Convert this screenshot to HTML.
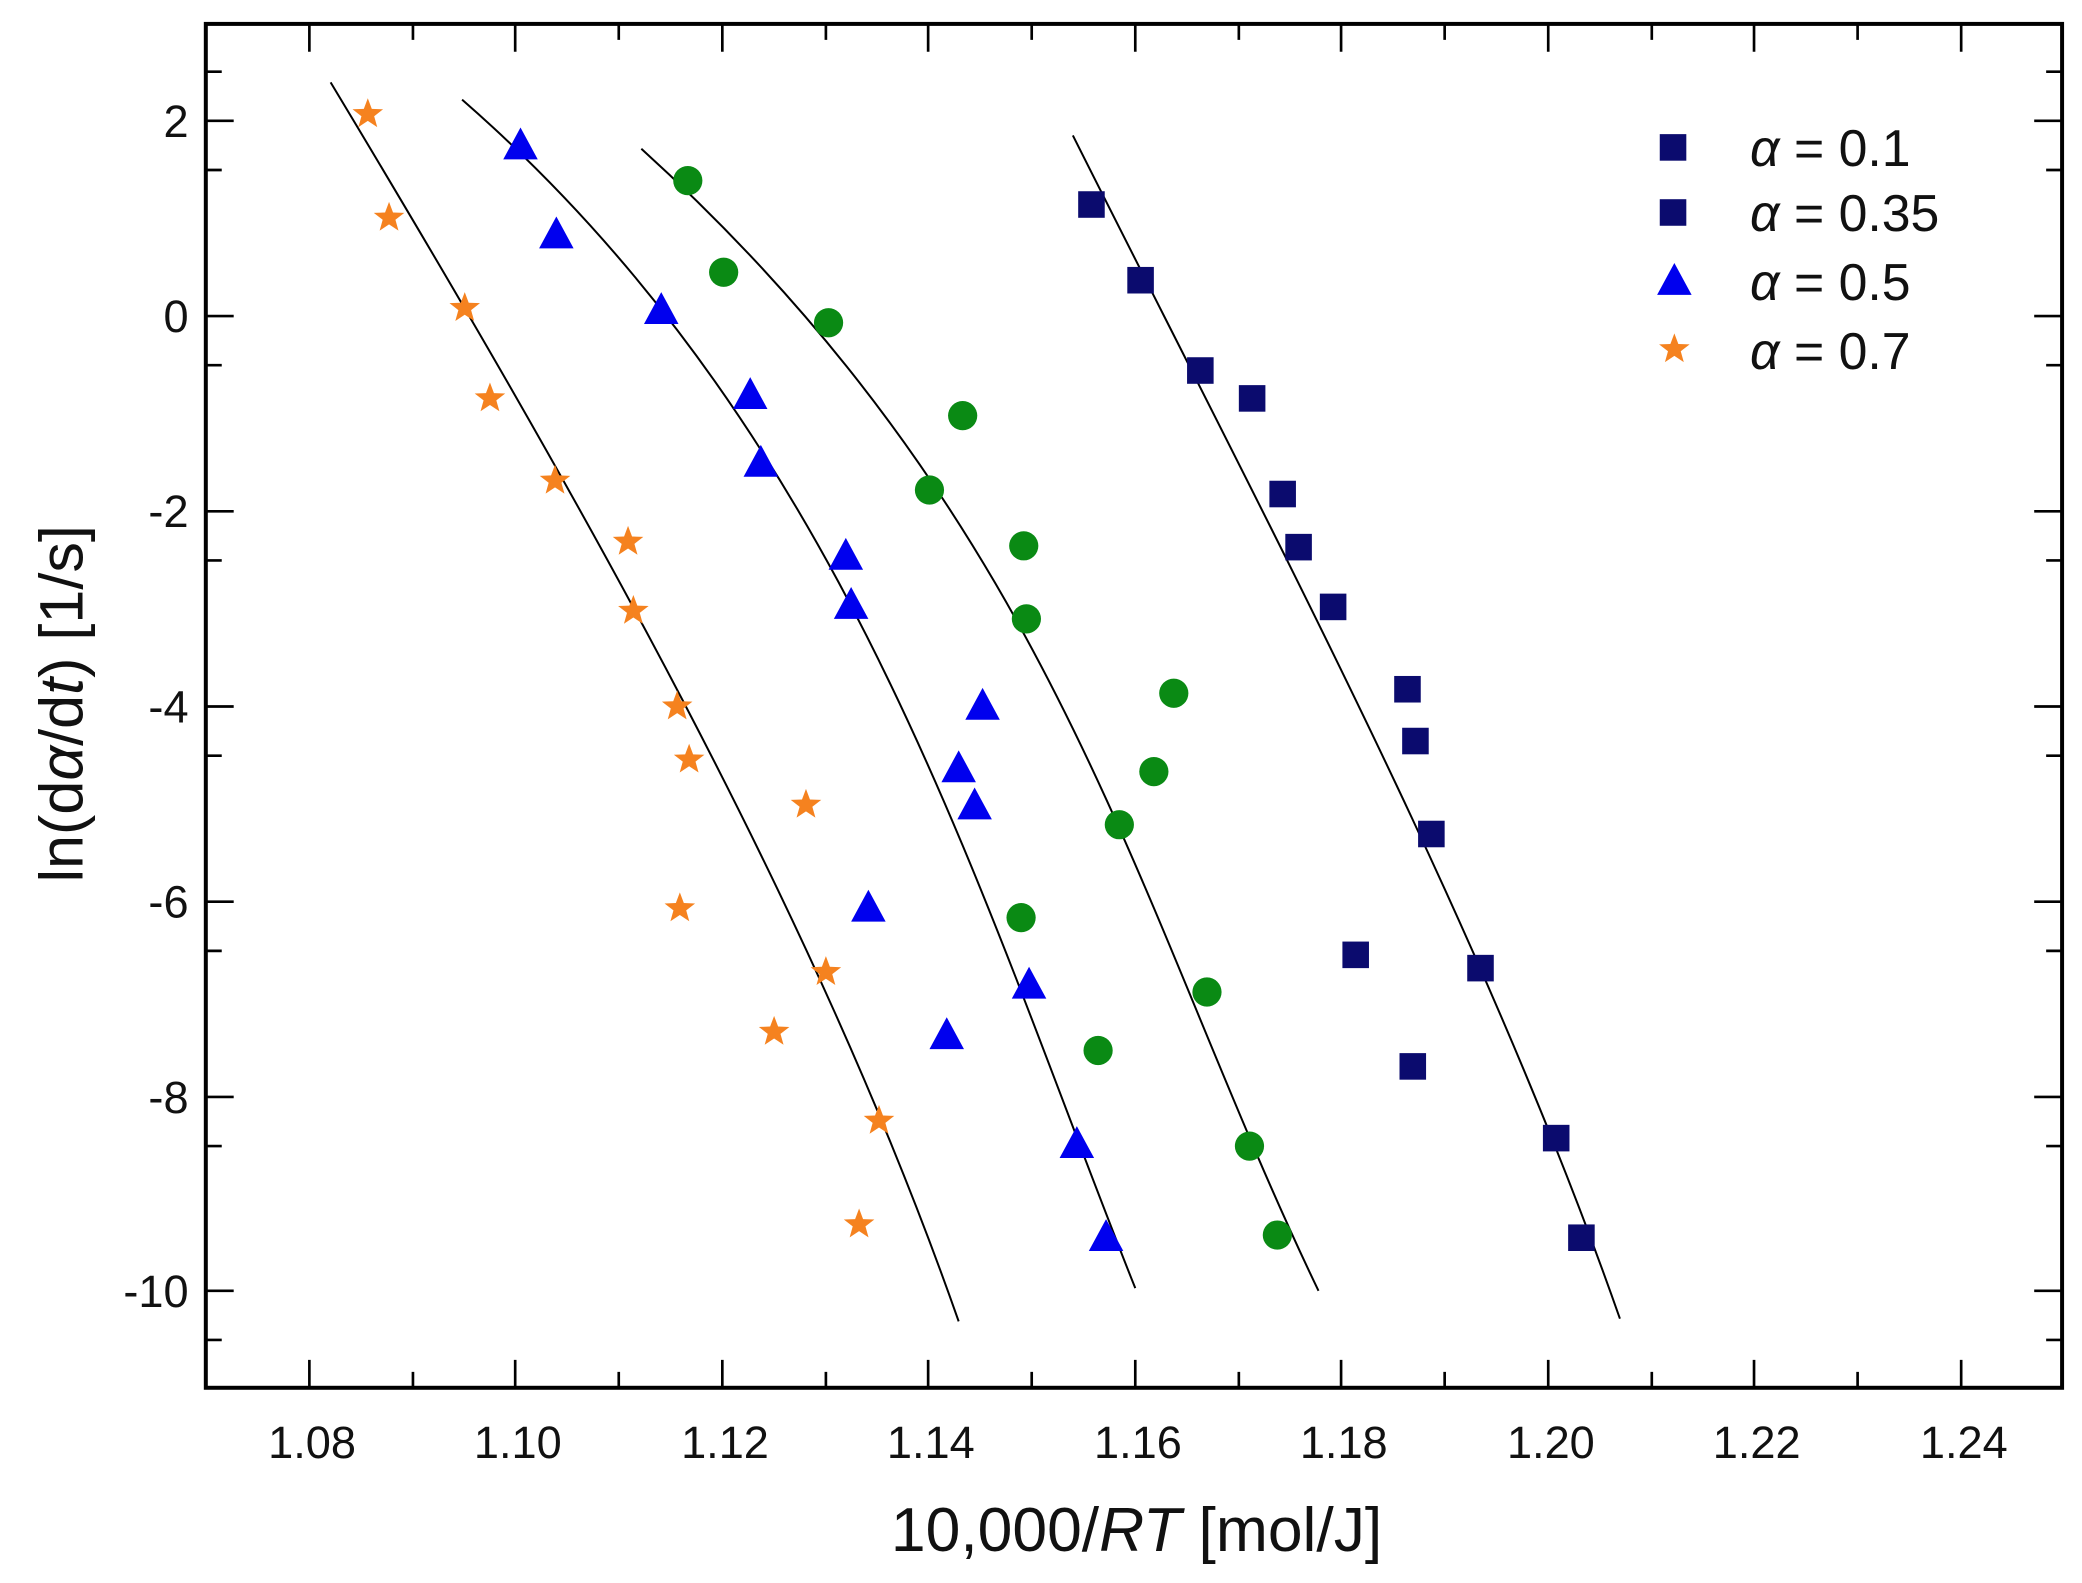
<!DOCTYPE html>
<html><head><meta charset="utf-8"><style>html,body{margin:0;padding:0;background:#fff}svg{display:block}</style></head>
<body>
<svg width="2082" height="1583" viewBox="0 0 1568 1192" preserveAspectRatio="none" xmlns="http://www.w3.org/2000/svg" font-family="Liberation Sans, Arial, sans-serif">
<defs>
<rect id="sq" x="-10" y="-10" width="20" height="20" fill="#0b0b6e"/>
<polygon id="tr" points="0,-14 13,10 -13,10" fill="#0000ee"/>
<circle id="ci" r="11" fill="#0a8a14"/>
<polygon id="st" points="0,-12 3,-4 11.5,-3.7 4.8,1.5 7.1,9.7 0,5 -7.1,9.7 -4.8,1.5 -11.5,-3.7 -3,-4" fill="#f5821f"/>
</defs>
<rect x="155" y="18" width="1398" height="1027" fill="none" stroke="#000" stroke-width="3"/>
<g stroke="#000" stroke-width="2">
<path d="M233,1045v-21M311,1045v-12M388,1045v-21M466,1045v-12M544,1045v-21M622,1045v-12M699,1045v-21M777,1045v-12M855,1045v-21M933,1045v-12M1010,1045v-21M1088,1045v-12M1166,1045v-21M1244,1045v-12M1321,1045v-21M1399,1045v-12M1477,1045v-21"/>
<path d="M233,18v21M311,18v12M388,18v21M466,18v12M544,18v21M622,18v12M699,18v21M777,18v12M855,18v21M933,18v12M1010,18v21M1088,18v12M1166,18v21M1244,18v12M1321,18v21M1399,18v12M1477,18v21"/>
<path d="M155,91h21M155,128h12M155,238h21M155,275h12M155,385h21M155,422h12M155,532h21M155,569h12M155,679h21M155,716h12M155,826h21M155,863h12M155,972h21M155,1009h12M155,54h12"/>
<path d="M1553,91h-21M1553,128h-12M1553,238h-21M1553,275h-12M1553,385h-21M1553,422h-12M1553,532h-21M1553,569h-12M1553,679h-21M1553,716h-12M1553,826h-21M1553,863h-12M1553,972h-21M1553,1009h-12M1553,54h-12"/>
</g>
<g font-size="34" text-anchor="end" fill="#111">
<text x="142" y="103">2</text><text x="142" y="250">0</text><text x="142" y="397">-2</text><text x="142" y="544">-4</text><text x="142" y="691">-6</text><text x="142" y="838">-8</text><text x="142" y="984">-10</text>
</g>
<g font-size="34" text-anchor="middle" fill="#111">
<text x="235" y="1098">1.08</text><text x="390" y="1098">1.10</text><text x="546" y="1098">1.12</text><text x="701" y="1098">1.14</text><text x="857" y="1098">1.16</text><text x="1012" y="1098">1.18</text><text x="1168" y="1098">1.20</text><text x="1323" y="1098">1.22</text><text x="1479" y="1098">1.24</text>
</g>
<text x="856" y="1168" font-size="47" text-anchor="middle" fill="#111">10,000/<tspan font-style="italic">RT</tspan> [mol/J]</text>
<text transform="translate(62,530) rotate(-90)" font-size="46" text-anchor="middle" fill="#111">ln(d<tspan font-style="italic">α</tspan>/d<tspan font-style="italic">t</tspan>)  [1/s]</text>
<g fill="none" stroke="#000" stroke-width="1.5">
<path d="M249,62 C436,373 613,684 722,995"/>
<path d="M348,75 C640,330 736,672 855,970"/>
<path d="M483,112 C799,399 855,685 993,972"/>
<path d="M808,102 C957,399 1116,696 1220,993"/>
</g>
<g>
<use href="#st" x="277" y="86"/><use href="#st" x="293" y="164"/><use href="#st" x="350" y="232"/><use href="#st" x="369" y="300"/><use href="#st" x="418" y="362"/><use href="#st" x="473" y="408"/><use href="#st" x="477" y="460"/><use href="#st" x="510" y="532"/><use href="#st" x="519" y="572"/><use href="#st" x="607" y="606"/><use href="#st" x="512" y="684"/><use href="#st" x="622" y="732"/><use href="#st" x="583" y="777"/><use href="#st" x="662" y="844"/><use href="#st" x="647" y="922"/>
<use href="#tr" x="392" y="110"/><use href="#tr" x="419" y="177"/><use href="#tr" x="498" y="234"/><use href="#tr" x="565" y="298"/><use href="#tr" x="573" y="349"/><use href="#tr" x="637" y="419"/><use href="#tr" x="641" y="456"/><use href="#tr" x="740" y="532"/><use href="#tr" x="722" y="579"/><use href="#tr" x="734" y="607"/><use href="#tr" x="654" y="684"/><use href="#tr" x="775" y="742"/><use href="#tr" x="713" y="780"/><use href="#tr" x="811" y="862"/><use href="#tr" x="833" y="932"/>
<use href="#ci" x="518" y="136"/><use href="#ci" x="545" y="205"/><use href="#ci" x="624" y="243"/><use href="#ci" x="725" y="313"/><use href="#ci" x="700" y="369"/><use href="#ci" x="771" y="411"/><use href="#ci" x="773" y="466"/><use href="#ci" x="884" y="522"/><use href="#ci" x="869" y="581"/><use href="#ci" x="843" y="621"/><use href="#ci" x="769" y="691"/><use href="#ci" x="909" y="747"/><use href="#ci" x="827" y="791"/><use href="#ci" x="941" y="863"/><use href="#ci" x="962" y="930"/>
<use href="#sq" x="822" y="154"/><use href="#sq" x="859" y="211"/><use href="#sq" x="904" y="279"/><use href="#sq" x="943" y="300"/><use href="#sq" x="966" y="372"/><use href="#sq" x="978" y="412"/><use href="#sq" x="1004" y="457"/><use href="#sq" x="1060" y="519"/><use href="#sq" x="1066" y="558"/><use href="#sq" x="1078" y="628"/><use href="#sq" x="1021" y="719"/><use href="#sq" x="1115" y="729"/><use href="#sq" x="1064" y="803"/><use href="#sq" x="1172" y="857"/><use href="#sq" x="1191" y="932"/>
</g>
<g>
<use href="#sq" x="1260" y="111"/><use href="#sq" x="1260" y="160"/><use href="#tr" x="1261" y="212"/><use href="#st" x="1261" y="263"/>
</g>
<g font-size="39" fill="#111">
<text x="1318" y="125"><tspan font-style="italic">α</tspan> = 0.1</text>
<text x="1318" y="174"><tspan font-style="italic">α</tspan> = 0.35</text>
<text x="1318" y="226"><tspan font-style="italic">α</tspan> = 0.5</text>
<text x="1318" y="278"><tspan font-style="italic">α</tspan> = 0.7</text>
</g>
</svg>
</body></html>
